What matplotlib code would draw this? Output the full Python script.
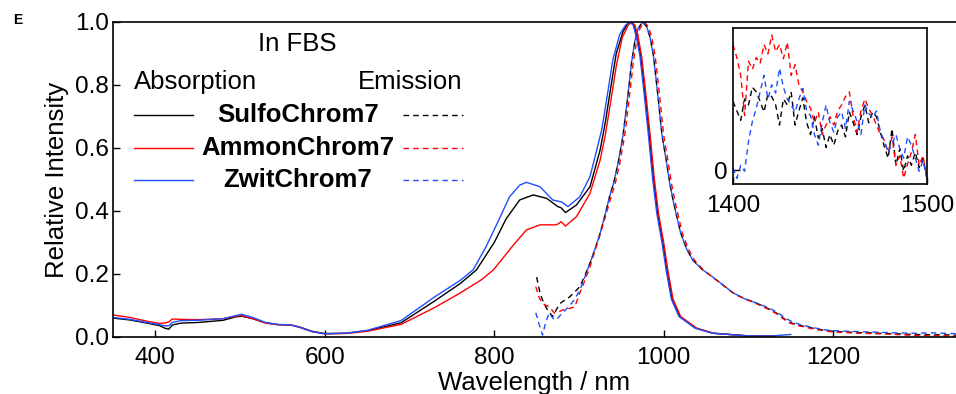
import numpy as np
import matplotlib
matplotlib.use('Agg')
import matplotlib.pyplot as plt

plt.rcParams['font.family'] = ['Liberation Sans', 'DejaVu Sans']

# Absorption spectra (solid)
wl_abs_sulfo = [350, 370, 390, 405, 412, 416, 420, 430, 450, 480, 495, 502, 515, 530, 545, 560, 570, 585, 600, 625,
                650, 690, 730, 760, 779, 800, 814, 830, 846, 862, 875, 879, 884, 897, 913, 925, 931, 938, 944, 952,
                957, 961, 965, 969, 973, 978, 983, 988, 993, 999, 1004, 1010, 1019, 1038, 1058, 1097, 1130]
abs_sulfo = [0.060, 0.054, 0.044, 0.036, 0.027, 0.025, 0.038, 0.044, 0.046, 0.053, 0.064, 0.066, 0.058, 0.045, 0.039,
             0.038, 0.032, 0.018, 0.011, 0.012, 0.020, 0.045, 0.115, 0.170, 0.213, 0.300, 0.375, 0.435, 0.451, 0.440,
             0.414, 0.410, 0.395, 0.419, 0.477, 0.594, 0.680, 0.800, 0.900, 0.970, 0.992, 1.000, 0.990, 0.950, 0.890,
             0.770, 0.640, 0.500, 0.390, 0.300, 0.210, 0.120, 0.065, 0.028, 0.012, 0.004, 0.003]

wl_abs_ammon = [350, 370, 390, 405, 412, 416, 420, 430, 450, 480, 495, 502, 515, 530, 545, 560, 570, 585, 600, 625,
                650, 690, 730, 760, 785, 799, 822, 838, 854, 873, 876, 879, 884, 897, 913, 925, 931, 937, 944, 951,
                958, 962, 966, 970, 974, 979, 984, 989, 994, 1000, 1005, 1011, 1020, 1039, 1059, 1097, 1130]
abs_ammon = [0.070, 0.062, 0.050, 0.043, 0.045, 0.048, 0.057, 0.056, 0.055, 0.058, 0.066, 0.068, 0.058, 0.044, 0.039,
             0.038, 0.031, 0.017, 0.010, 0.011, 0.018, 0.040, 0.094, 0.140, 0.182, 0.213, 0.290, 0.340, 0.356, 0.356,
             0.360, 0.366, 0.352, 0.382, 0.456, 0.562, 0.640, 0.740, 0.860, 0.950, 0.990, 1.000, 0.990, 0.950, 0.890,
             0.770, 0.640, 0.500, 0.390, 0.300, 0.210, 0.120, 0.065, 0.028, 0.012, 0.004, 0.003]

wl_abs_zwit = [350, 370, 390, 405, 412, 416, 420, 430, 450, 480, 495, 502, 515, 530, 545, 560, 570, 585, 600, 625,
               650, 690, 730, 760, 775, 790, 806, 818, 830, 838, 854, 869, 877, 880, 887, 901, 913, 921, 927, 933,
               940, 948, 955, 960, 964, 968, 972, 977, 982, 987, 992, 998, 1003, 1009, 1018, 1037, 1057, 1097, 1125,
               1150]
abs_zwit = [0.062, 0.056, 0.046, 0.039, 0.035, 0.036, 0.046, 0.052, 0.053, 0.058, 0.068, 0.072, 0.062, 0.046, 0.040,
            0.038, 0.031, 0.017, 0.010, 0.012, 0.021, 0.052, 0.128, 0.180, 0.213, 0.285, 0.375, 0.445, 0.482, 0.491,
            0.477, 0.435, 0.430, 0.428, 0.414, 0.445, 0.509, 0.594, 0.660, 0.760, 0.880, 0.960, 0.990, 1.000, 0.990,
            0.950, 0.890, 0.770, 0.640, 0.500, 0.390, 0.300, 0.210, 0.120, 0.065, 0.028, 0.012, 0.004, 0.003, 0.008]

# Emission spectra (dashed)
wl_em_sulfo = [850, 854, 858, 862, 866, 869, 873, 877, 882, 888, 894, 901, 907, 913, 919, 925, 931, 936, 941, 946,
               952, 957, 962, 966, 970, 975, 980, 984, 988, 993, 998, 1003, 1007, 1011, 1015, 1020, 1027, 1034, 1045,
               1058, 1070, 1082, 1095, 1110, 1122, 1133, 1141, 1149, 1160, 1176, 1190, 1200, 1230, 1255, 1275, 1294,
               1320, 1350]
em_sulfo = [0.190, 0.140, 0.110, 0.090, 0.075, 0.065, 0.085, 0.105, 0.115, 0.125, 0.140, 0.160, 0.195, 0.235, 0.280,
            0.330, 0.390, 0.445, 0.490, 0.550, 0.640, 0.750, 0.870, 0.940, 0.980, 1.000, 0.985, 0.950, 0.890, 0.770,
            0.640, 0.560, 0.490, 0.435, 0.387, 0.330, 0.280, 0.245, 0.215, 0.190, 0.165, 0.140, 0.122, 0.107, 0.092,
            0.076, 0.060, 0.046, 0.037, 0.028, 0.021, 0.018, 0.014, 0.012, 0.010, 0.008, 0.007, 0.006]

wl_em_ammon = [849, 853, 857, 861, 865, 871, 876, 881, 888, 895, 901, 907, 913, 919, 925, 932, 938, 943, 948, 954,
               959, 964, 968, 972, 977, 982, 986, 990, 995, 1000, 1005, 1009, 1013, 1017, 1022, 1029, 1036, 1046,
               1060, 1072, 1084, 1097, 1110, 1122, 1133, 1141, 1149, 1160, 1176, 1190, 1200, 1230, 1255, 1275, 1294,
               1320, 1350]
em_ammon = [0.160, 0.125, 0.107, 0.100, 0.096, 0.076, 0.080, 0.086, 0.090, 0.096, 0.140, 0.180, 0.223, 0.275, 0.325,
            0.390, 0.445, 0.490, 0.550, 0.640, 0.750, 0.870, 0.940, 0.980, 1.000, 0.985, 0.950, 0.890, 0.770, 0.640,
            0.560, 0.490, 0.435, 0.387, 0.330, 0.280, 0.245, 0.215, 0.185, 0.160, 0.135, 0.120, 0.105, 0.090, 0.074,
            0.058, 0.044, 0.035, 0.026, 0.019, 0.016, 0.012, 0.010, 0.008, 0.005, 0.004, 0.003]

wl_em_zwit = [849, 853, 857, 861, 865, 869, 873, 880, 888, 895, 901, 907, 913, 919, 925, 931, 936, 941, 946, 952,
              957, 962, 966, 970, 975, 980, 984, 988, 993, 998, 1003, 1007, 1011, 1015, 1020, 1027, 1034, 1045, 1058,
              1070, 1082, 1095, 1110, 1122, 1133, 1141, 1149, 1160, 1176, 1190, 1200, 1230, 1255, 1275, 1294, 1320,
              1350]
em_zwit = [0.077, 0.040, 0.006, 0.050, 0.076, 0.060, 0.054, 0.075, 0.096, 0.120, 0.149, 0.190, 0.235, 0.280, 0.330,
           0.390, 0.445, 0.490, 0.550, 0.640, 0.750, 0.870, 0.940, 0.980, 1.000, 0.985, 0.950, 0.890, 0.770, 0.640,
           0.560, 0.490, 0.435, 0.387, 0.330, 0.280, 0.245, 0.215, 0.190, 0.165, 0.140, 0.122, 0.107, 0.095, 0.080,
           0.065, 0.052, 0.040, 0.030, 0.023, 0.020, 0.017, 0.015, 0.013, 0.012, 0.013, 0.010]

# Inset: emission tail 1400-1500 nm, every 2 nm
wl_inset = list(range(1400, 1501, 2))
inset_sulfo = [0.0058, 0.0050, 0.0042, 0.0060, 0.0055, 0.0070, 0.0066, 0.0058, 0.0049, 0.0064, 0.0062, 0.0055,
               0.0038, 0.0060, 0.0055, 0.0066, 0.0038, 0.0050, 0.0061, 0.0040, 0.0030, 0.0045, 0.0027, 0.0035,
               0.0019, 0.0030, 0.0021, 0.0033, 0.0038, 0.0028, 0.0049, 0.0040, 0.0030, 0.0045, 0.0055, 0.0040,
               0.0049, 0.0045, 0.0032, 0.0020, 0.0010, 0.0035, 0.0004, 0.0018, -0.0001, 0.0012, 0.0004, 0.0015,
               0.0002, 0.0010, -0.0007]
inset_ammon = [0.0106, 0.0095, 0.0080, 0.0046, 0.0092, 0.0085, 0.0095, 0.0090, 0.0106, 0.0098, 0.0114, 0.0100,
               0.0106, 0.0094, 0.0108, 0.0080, 0.0089, 0.0072, 0.0066, 0.0058, 0.0052, 0.0040, 0.0049, 0.0030,
               0.0038, 0.0045, 0.0038, 0.0050, 0.0055, 0.0062, 0.0066, 0.0045, 0.0032, 0.0050, 0.0060, 0.0052,
               0.0046, 0.0038, 0.0030, 0.0025, 0.0015, 0.0028, 0.0004, 0.0012, -0.0007, 0.0005, 0.0015, 0.0030,
               0.0004, 0.0012, -0.0007]
inset_zwit = [0.0002, -0.0007, 0.0004, -0.0001, 0.0024, 0.0041, 0.0052, 0.0066, 0.0080, 0.0060, 0.0072, 0.0065,
              0.0086, 0.0070, 0.0060, 0.0055, 0.0049, 0.0060, 0.0069, 0.0050, 0.0046, 0.0030, 0.0021, 0.0040,
              0.0055, 0.0040, 0.0032, 0.0045, 0.0049, 0.0035, 0.0058, 0.0050, 0.0041, 0.0030, 0.0055, 0.0048,
              0.0044, 0.0050, 0.0032, 0.0025, 0.0015, 0.0022, 0.0030, 0.0018, 0.0010, 0.0028, 0.0021, 0.0010,
              -0.0001, 0.0008, -0.0007]

names = ['SulfoChrom7', 'AmmonChrom7', 'ZwitChrom7']
colors = ['#000000', '#ff0000', '#1f4fff']

FS = 17.5      # tick labels
FL = 18.5      # axis labels and legend text
fig = plt.figure(figsize=(9.56, 3.94), dpi=100)
ax = fig.add_axes([0.1182, 0.1447, 0.8818, 0.7995])

abs_sets = [(wl_abs_sulfo, abs_sulfo), (wl_abs_ammon, abs_ammon), (wl_abs_zwit, abs_zwit)]
em_sets = [(wl_em_sulfo, em_sulfo), (wl_em_ammon, em_ammon), (wl_em_zwit, em_zwit)]
for (wa, ya), (we, ye), c in zip(abs_sets, em_sets, colors):
    ax.plot(wa, ya, color=c, lw=1.0)
    ax.plot(we, ye, color=c, lw=1.0, dashes=(4, 3))

ax.set_xlim(350, 1345)
ax.set_ylim(0, 1.0)
ax.set_xticks([400, 600, 800, 1000, 1200])
ax.set_yticks([0.0, 0.2, 0.4, 0.6, 0.8, 1.0])
ax.yaxis.set_major_formatter(matplotlib.ticker.FormatStrFormatter('%.1f'))
ax.tick_params(direction='in', length=5, width=1.0, labelsize=FS)
ax.tick_params(axis='x', pad=7)
ax.tick_params(axis='y', pad=3)
ax.spines['right'].set_visible(False)
for s in ['left', 'top', 'bottom']:
    ax.spines[s].set_linewidth(1.2)
ax.set_xlabel('Wavelength / nm', fontsize=FL, labelpad=2)
ax.set_ylabel('Relative Intensity', fontsize=FL, labelpad=4)

# legend drawn by hand in axes coordinates
ax.text(0.218, 0.93, 'In FBS', transform=ax.transAxes, ha='center', va='center', fontsize=FL)
ax.text(0.025, 0.81, 'Absorption', transform=ax.transAxes, ha='left', va='center', fontsize=FL)
ax.text(0.415, 0.81, 'Emission', transform=ax.transAxes, ha='right', va='center', fontsize=FL)
for i, (n, c) in enumerate(zip(names, colors)):
    yy = 0.705 - i * 0.1035
    ax.plot([0.025, 0.095], [yy, yy], color=c, lw=1.0, transform=ax.transAxes)
    ax.plot([0.344, 0.415], [yy, yy], color=c, lw=1.0, dashes=(4, 3), transform=ax.transAxes)
    ax.text(0.219, yy, n, transform=ax.transAxes, ha='center', va='center', fontsize=FL, fontweight='bold')

fig.text(0.019, 0.948, 'E', fontsize=10, fontweight='bold', ha='center', va='center')

# inset
axi = fig.add_axes([0.7667, 0.533, 0.2029, 0.396])
for y, c in zip([inset_sulfo, inset_ammon, inset_zwit], colors):
    axi.plot(wl_inset, y, color=c, lw=1.0, dashes=(4, 3))
axi.set_xlim(1400, 1500)
axi.set_ylim(-0.00118, 0.012)
axi.set_xticks([1400, 1500])
axi.set_yticks([0])
axi.set_yticklabels(['0'])
axi.tick_params(direction='in', length=5, width=1.0, labelsize=FS)
axi.tick_params(axis='x', pad=8)
axi.tick_params(axis='y', pad=4)
for s in axi.spines.values():
    s.set_linewidth(1.2)

fig.savefig('out.png', dpi=100)
